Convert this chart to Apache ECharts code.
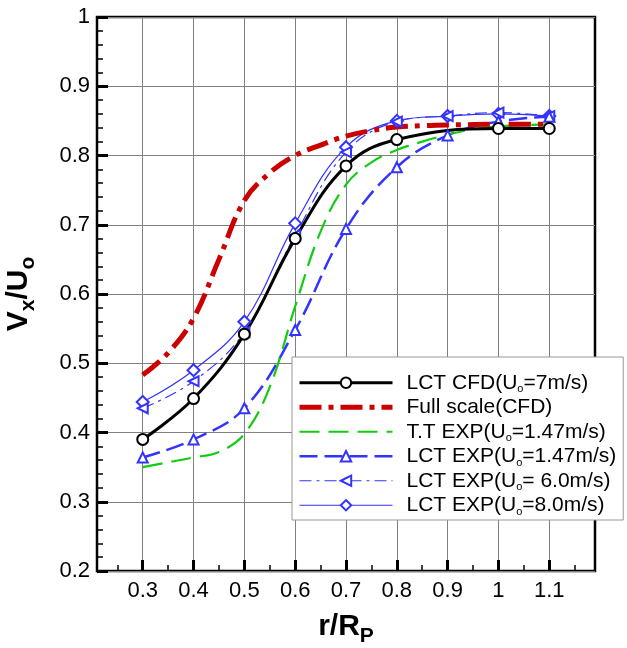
<!DOCTYPE html>
<html>
<head>
<meta charset="utf-8">
<script src="https://cdn.jsdelivr.net/npm/echarts@6/dist/echarts.min.js"></script>
<style>html,body{margin:0;padding:0;background:#fff;}#c{width:627px;height:648px;}</style>
</head>
<body>
<div id="c"></div>
<script>
// ---- data ----
const xTickValues = [0.3, 0.4, 0.5, 0.6, 0.7, 0.8, 0.9, 1.0, 1.1];
const xMinorTickValues = [0.25, 0.35, 0.45, 0.55, 0.65, 0.75, 0.85, 0.95, 1.05, 1.15];

const cfdX = [0.3, 0.4, 0.5, 0.6, 0.7, 0.8, 1.0, 1.1];
const cfdY = [0.390, 0.449, 0.542, 0.680, 0.785, 0.823, 0.839, 0.839];

const fullX = [0.3, 0.35, 0.4, 0.45, 0.5, 0.55, 0.6, 0.65, 0.7, 0.75, 0.8, 0.85, 0.9, 1.0, 1.1];
const fullY = [0.483, 0.515, 0.565, 0.650, 0.735, 0.775, 0.800, 0.815, 0.828, 0.836, 0.841, 0.843, 0.844, 0.845, 0.845];

const ttX = [0.3, 0.35, 0.4, 0.45, 0.5, 0.55, 0.6, 0.65, 0.7, 0.75, 0.8, 0.85, 0.9, 0.95, 1.0, 1.1];
const ttY = [0.350, 0.357, 0.364, 0.372, 0.398, 0.466, 0.582, 0.690, 0.758, 0.790, 0.808, 0.820, 0.830, 0.838, 0.842, 0.845];

const expX = [0.3, 0.4, 0.5, 0.6, 0.7, 0.8, 0.9, 1.0, 1.1];
const exp147Y = [0.364, 0.390, 0.435, 0.548, 0.694, 0.783, 0.829, 0.849, 0.856];
const exp60Y  = [0.435, 0.474, 0.545, 0.685, 0.805, 0.849, 0.857, 0.862, 0.857];
const exp80Y  = [0.444, 0.490, 0.560, 0.702, 0.812, 0.850, 0.857, 0.860, 0.857];

const seriesNames = [
  'LCT CFD(Uo=7m/s)',
  'Full scale(CFD)',
  'T.T EXP(Uo=1.47m/s)',
  'LCT EXP(Uo=1.47m/s)',
  'LCT EXP(Uo= 6.0m/s)',
  'LCT EXP(Uo=8.0m/s)'
];

// ---- build ----
const pairs = (xs, ys) => xs.map((x, i) => [x, ys[i]]);
const FONT = 'Liberation Sans, Arial, sans-serif';
const BLUE = '#3333ff';
const noMarker = new Set([seriesNames[1], seriesNames[2]]);

const chart = echarts.init(document.getElementById('c'), null, {renderer: 'canvas'});
chart.setOption({
  animation: false,
  backgroundColor: '#fff',
  textStyle: {fontFamily: FONT},
  grid: {left: 97, right: 32, top: 17, bottom: 77, outerBoundsMode: 'none', containLabel: false,
         show: true, borderColor: '#000', borderWidth: 2.5, backgroundColor: 'transparent'},
  legend: {
    orient: 'vertical',
    left: 292, top: 357,
    padding: [14, 7, 3, 5],
    itemGap: 1,
    itemWidth: 93, itemHeight: 13,
    backgroundColor: '#fff',
    borderColor: '#999', borderWidth: 1,
    lineStyle: {width: 'inherit'},
    data: seriesNames.map(n => noMarker.has(n) ? {name: n, itemStyle: {opacity: 0}} : {name: n}),
    formatter: n => n.replace('Uo', 'U{s|o}'),
    textStyle: {
      fontFamily: FONT, fontSize: 21, color: '#000', lineHeight: 23.5, padding: [0, 0, 0, 9],
      rich: {s: {fontFamily: FONT, fontSize: 11, lineHeight: 11, verticalAlign: 'bottom', color: '#000'}}
    }
  },
  xAxis: [{
    type: 'value', min: 0.21, max: 1.19,
    name: 'r/R{s|P}', nameLocation: 'middle', nameGap: 33,
    nameTextStyle: {fontFamily: FONT, fontSize: 30, fontWeight: 'bold', color: '#000', lineHeight: 40,
      rich: {s: {fontFamily: FONT, fontSize: 21, fontWeight: 'bold', lineHeight: 21, verticalAlign: 'bottom', color: '#000'}}},
    axisLine: {show: false},
    axisTick: {show: true, inside: true, length: 11, lineStyle: {color: '#000', width: 3}, customValues: xTickValues},
    axisLabel: {customValues: xTickValues, fontFamily: FONT, fontSize: 22, color: '#000', margin: 9},
    splitLine: {show: true, lineStyle: {color: '#808080', width: 1}}
  }, {
    type: 'value', min: 0.21, max: 1.19, position: 'bottom', gridIndex: 0,
    axisLine: {show: false},
    axisTick: {show: true, inside: true, length: 6, lineStyle: {color: '#000', width: 1.5}, customValues: xMinorTickValues},
    axisLabel: {show: false},
    splitLine: {show: false}
  }],
  yAxis: {
    type: 'value', min: 0.2, max: 1, interval: 0.1,
    name: 'V{s|x}/U{s|o}', nameLocation: 'middle', nameRotate: 90, nameGap: 58,
    nameTextStyle: {fontFamily: FONT, fontSize: 30, fontWeight: 'bold', color: '#000', lineHeight: 40,
      rich: {s: {fontFamily: FONT, fontSize: 21, fontWeight: 'bold', lineHeight: 21, verticalAlign: 'bottom', color: '#000'}}},
    axisLine: {show: false},
    axisTick: {show: true, inside: true, length: 11, lineStyle: {color: '#000', width: 3}},
    minorTick: {show: true, splitNumber: 5, length: 6, lineStyle: {color: '#000', width: 1.5}},
    axisLabel: {fontFamily: FONT, fontSize: 22, color: '#000', margin: 7},
    splitLine: {show: true, lineStyle: {color: '#808080', width: 1}}
  },
  series: [
    {name: seriesNames[5], type: 'line', smooth: 0.4, data: pairs(expX, exp80Y),
     symbol: 'emptyDiamond', symbolSize: 12,
     lineStyle: {color: BLUE, width: 1.2, type: 'solid'}, itemStyle: {color: BLUE, borderWidth: 1.2}},
    {name: seriesNames[4], type: 'line', smooth: 0.4, data: pairs(expX, exp60Y),
     symbol: 'emptyTriangle', symbolRotate: 90, symbolSize: 10,
     lineStyle: {color: BLUE, width: 1.2, type: [12, 5, 3, 5]}, itemStyle: {color: BLUE, borderWidth: 1.2}},
    {name: seriesNames[3], type: 'line', smooth: 0.4, data: pairs(expX, exp147Y),
     symbol: 'emptyTriangle', symbolSize: 10,
     lineStyle: {color: BLUE, width: 2.5, type: [18, 7]}, itemStyle: {color: BLUE, borderWidth: 1.2}},
    {name: seriesNames[2], type: 'line', smooth: 0.4, data: pairs(ttX, ttY),
     showSymbol: false, symbol: 'circle', symbolSize: 1,
     lineStyle: {color: '#11cc11', width: 2.2, type: [20, 9]}, itemStyle: {color: '#11cc11'}},
    {name: seriesNames[1], type: 'line', smooth: 0.4, data: pairs(fullX, fullY),
     showSymbol: false, symbol: 'circle', symbolSize: 1,
     lineStyle: {color: '#cc0000', width: 5, type: [22, 7, 5, 7]}, itemStyle: {color: '#cc0000'}},
    {name: seriesNames[0], type: 'line', smooth: 0.4, data: pairs(cfdX, cfdY),
     symbol: 'emptyCircle', symbolSize: 11,
     lineStyle: {color: '#000', width: 3, type: 'solid'}, itemStyle: {color: '#000', borderWidth: 1.5}}
  ]
});
</script>
</body>
</html>
